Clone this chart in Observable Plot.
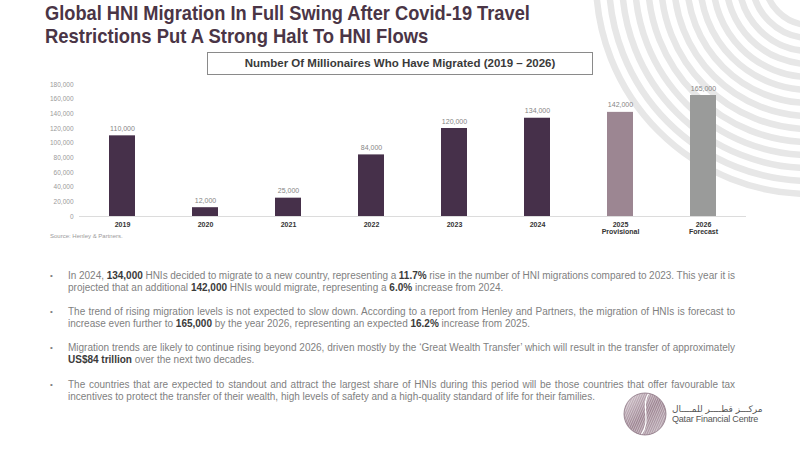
<!DOCTYPE html>
<html>
<head>
<meta charset="utf-8">
<script src="https://cdn.jsdelivr.net/npm/d3@7"></script>
<script src="https://cdn.jsdelivr.net/npm/@observablehq/plot@0.6"></script>
<style>
  html, body { margin: 0; padding: 0; background: #fff; }
  #page { position: relative; width: 800px; height: 450px; overflow: hidden;
          font-family: "Liberation Sans", Arial, sans-serif; }
  #bg { position: absolute; left: 0; top: 0; }
  .title { position: absolute; left: 45px; margin: 0; font-size: 20.5px; font-weight: bold;
           color: #4a3546; white-space: nowrap; transform-origin: 0 0; line-height: 1; }
  #subtitle { position: absolute; left: 207px; top: 52px; width: 386px; height: 23px;
              border: 1px solid #8a8a8a; box-sizing: border-box; }
  #subtitle span { position: absolute; left: 0; right: 0; top: 4px; text-align: center;
                   font-size: 11.5px; font-weight: bold; color: #3a3a3a; white-space: nowrap; }
  #chart { position: absolute; left: 0; top: 78px; }
  #source { position: absolute; left: 50px; top: 233px; font-size: 6px; color: #9a9a9a; }
  .para { position: absolute; left: 50px; width: 700px; font-size: 10px; color: #7f7f7f; }
  .para .dot { position: absolute; left: 0; top: 0; font-size: 8px; line-height: 12px; }
  .para .line { position: absolute; left: 18px; white-space: nowrap; line-height: 12px; }
  .para b { color: #3a3a3a; }
  #logo { position: absolute; left: 622px; top: 391px; }
  #qfc { position: absolute; left: 672px; top: 404px; color: #555; }
  #qfc .ar { font-family: "DejaVu Sans", sans-serif; font-size: 9px; line-height: 10px; direction: rtl; text-align: left; }
  #qfc .en { font-size: 9px; line-height: 11px; letter-spacing: -0.2px; }
</style>
</head>
<body>
<div id="page">
  <svg id="bg" width="800" height="450"></svg>
  <div class="title" data-w="485" style="top:3px">Global HNI Migration In Full Swing After Covid-19 Travel</div>
  <div class="title" data-w="383" style="top:26px">Restrictions Put A Strong Halt To HNI Flows</div>
  <div id="subtitle"><span>Number Of Millionaires Who Have Migrated (2019 – 2026)</span></div>
  <div id="chart"></div>
  <div id="source">Source: Henley &amp; Partners.</div>
  <div id="notes"></div>
  <svg id="logo" width="46" height="46"></svg>
  <div id="qfc"><div class="ar">مركـــز قطــــر للمــــال</div><div class="en">Qatar Financial Centre</div></div>
</div>
<script>
// Millionaire (HNI) migration by year
const years = ["2019", "2020", "2021", "2022", "2023", "2024", "2025", "2026"];
const status = ["", "", "", "", "", "", "Provisional", "Forecast"];
const migrants = [110000, 12000, 25000, 84000, 120000, 134000, 142000, 165000];
const yTicks = [0, 20000, 40000, 60000, 80000, 100000, 120000, 140000, 160000, 180000];

// Commentary below the chart, one entry per bullet, one string per line
const notes = [
  ["In 2024, **134,000** HNIs decided to migrate to a new country, representing a **11.7%** rise in the number of HNI migrations compared to 2023. This year it is",
   "projected that an additional **142,000** HNIs would migrate, representing a **6.0%** increase from 2024."],
  ["The trend of rising migration levels is not expected to slow down. According to a report from Henley and Partners, the migration of HNIs is forecast to",
   "increase even further to **165,000** by the year 2026, representing an expected **16.2%** increase from 2025."],
  ["Migration trends are likely to continue rising beyond 2026, driven mostly by the ‘Great Wealth Transfer’ which will result in the transfer of approximately",
   "**US$84 trillion** over the next two decades."],
  ["The countries that are expected to standout and attract the largest share of HNIs during this period will be those countries that offer favourable tax",
   "incentives to protect the transfer of their wealth, high levels of safety and a high-quality standard of life for their families."]
];

const data = years.map((year, i) => ({year, status: status[i], value: migrants[i]}));
const fmt = d3.format(",");

const chart = Plot.plot({
  width: 800,
  height: 165,
  marginLeft: 79,
  marginRight: 54,
  marginTop: 6,
  marginBottom: 27,
  style: {background: "transparent", fontFamily: "'Liberation Sans', Arial, sans-serif"},
  x: {domain: years, paddingInner: 0.69, paddingOuter: 0.345},
  y: {domain: [0, 180000]},
  color: {domain: ["", "Provisional", "Forecast"], range: ["#46304a", "#9c8692", "#9a9b9a"]},
  marks: [
    Plot.barY(data, {x: "year", y: "value", fill: "status"}),
    Plot.ruleY([0], {stroke: "#dcdcdc", strokeWidth: 1}),
    Plot.text(data, {x: "year", y: "value", text: d => fmt(d.value), dy: -5,
                     lineAnchor: "bottom", fontSize: 7, fill: "#858585"}),
    Plot.axisY({ticks: yTicks, tickFormat: fmt, tickSize: 0, tickPadding: 6,
                fontSize: 6.5, fill: "#9a9a9a", label: null}),
    Plot.axisX({tickSize: 0, tickPadding: 5, fontSize: 7, fontWeight: "bold", fill: "#333",
                lineHeight: 1.05, label: null,
                tickFormat: y => { const s = status[years.indexOf(y)]; return s ? y + "\n" + s : y; }})
  ]
});
document.getElementById("chart").appendChild(chart);

// Title lines: condense to their set widths
document.querySelectorAll(".title").forEach(el => {
  const w = +el.dataset.w;
  el.style.transform = `scaleX(${w / el.scrollWidth})`;
});

// Bullet paragraphs with manually justified lines
const notesEl = document.getElementById("notes");
const paraTops = [270, 306, 342, 379];
const textWidth = 667;
notes.forEach((lines, i) => {
  const p = document.createElement("div");
  p.className = "para";
  p.style.top = paraTops[i] + "px";
  p.innerHTML = `<span class="dot">•</span>`;
  lines.forEach((ln, j) => {
    const s = document.createElement("span");
    s.className = "line";
    s.style.top = (j * 12) + "px";
    s.innerHTML = ln.replace(/\*\*(.+?)\*\*/g, "<b>$1</b>");
    p.appendChild(s);
  });
  notesEl.appendChild(p);
  p.querySelectorAll(".line").forEach((s, j) => {
    const w = s.getBoundingClientRect().width;
    const spaces = (s.textContent.match(/ /g) || []).length;
    if (j < lines.length - 1 || w > textWidth) {
      s.style.wordSpacing = ((textWidth - w) / spaces) + "px";
    }
  });
});

// Decorative concentric arcs in the top-right corner
const bg = d3.select("#bg");
d3.range(14).forEach(i => {
  bg.append("circle").attr("cx", 810).attr("cy", -20).attr("r", 214 - i * 13)
    .attr("fill", "none").attr("stroke", "#e7e7e7").attr("stroke-width", 6.5);
});

// Logo roundel
const logo = d3.select("#logo");
const defs = logo.append("defs");
const grad = defs.append("linearGradient").attr("id", "lg").attr("x1", 0).attr("y1", 0).attr("x2", 1).attr("y2", 1);
grad.append("stop").attr("offset", 0).attr("stop-color", "#d8ccd3");
grad.append("stop").attr("offset", 0.5).attr("stop-color", "#9c8391");
grad.append("stop").attr("offset", 1).attr("stop-color", "#c3b5bd");
defs.append("clipPath").attr("id", "lc").append("circle").attr("cx", 23).attr("cy", 23).attr("r", 21);
logo.append("circle").attr("cx", 23).attr("cy", 23).attr("r", 21).attr("fill", "url(#lg)");
const g = logo.append("g").attr("clip-path", "url(#lc)");
d3.range(-30, 80, 2.2).forEach(x => {
  g.append("line").attr("x1", x).attr("y1", 0).attr("x2", x - 20).attr("y2", 46)
    .attr("stroke", "#fff").attr("stroke-width", 0.6).attr("opacity", 0.7);
});
g.append("path").attr("d", "M27,2 C18,14 30,30 19,44").attr("fill", "none")
  .attr("stroke", "#fff").attr("stroke-width", 1.2);
logo.append("circle").attr("cx", 23).attr("cy", 23).attr("r", 21).attr("fill", "none")
  .attr("stroke", "#8c7583").attr("stroke-width", 0.8);
</script>
</body>
</html>
